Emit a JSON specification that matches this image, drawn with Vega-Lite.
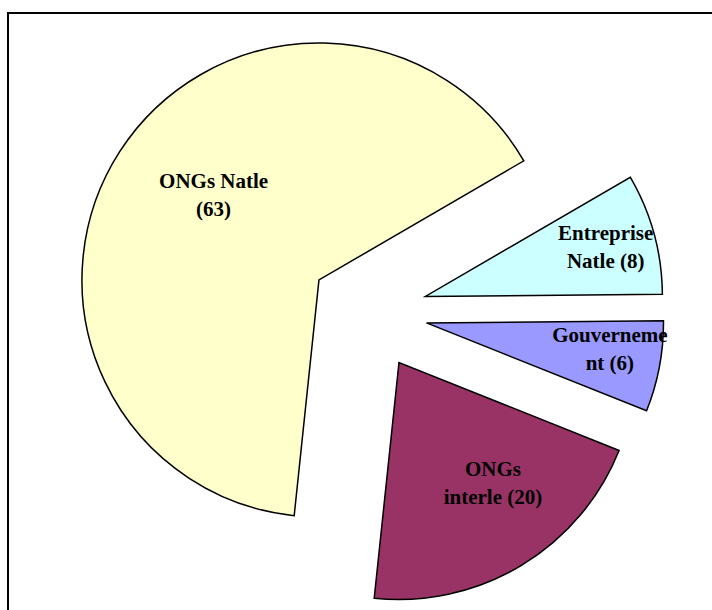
{
  "$schema": "https://vega.github.io/schema/vega-lite/v6.json",
  "width": 712,
  "height": 610,
  "autosize": "none",
  "padding": {"left": 8, "top": 13, "right": 0, "bottom": 0},
  "background": "white",
  "config": {"view": {"stroke": "black", "strokeWidth": 2}},
  "params": [
    {"name": "rayon", "value": 237},
    {"name": "ecart", "value": 59},
    {"name": "debut", "value": 1.044}
  ],
  "data": {
    "values": [
      {"nom": "Entreprise Natle", "libelle": "Entreprise\nNatle (8)", "value": 8},
      {"nom": "Gouvernement", "libelle": "Gouverneme\nnt (6)", "value": 6},
      {"nom": "ONGs interle", "libelle": "ONGs\ninterle (20)", "value": 20},
      {"nom": "ONGs Natle", "libelle": "ONGs Natle\n(63)", "value": 63}
    ]
  },
  "transform": [
    {"window": [{"op": "sum", "field": "value", "as": "cumul"}], "frame": [null, 0]},
    {"joinaggregate": [{"op": "sum", "field": "value", "as": "total"}]},
    {"calculate": "debut + 2 * PI * (datum.cumul - datum.value) / datum.total", "as": "a0"},
    {"calculate": "debut + 2 * PI * datum.cumul / datum.total", "as": "a1"},
    {"calculate": "(datum.a0 + datum.a1) / 2", "as": "milieu"},
    {"calculate": "sin(datum.milieu)", "as": "dx"},
    {"calculate": "-cos(datum.milieu)", "as": "dy"},
    {"calculate": "1 + (datum.value / datum.total < 0.1 ? 0.71 : 0.62) * rayon / ecart", "as": "k"},
    {"calculate": "datum.dx * datum.k", "as": "lx"},
    {"calculate": "datum.dy * datum.k", "as": "ly"}
  ],
  "layer": [
    {
      "mark": {"type": "arc", "outerRadius": 237, "stroke": "black", "strokeWidth": 1.5},
      "encoding": {
        "theta": {"field": "a0", "type": "quantitative", "scale": null, "stack": null},
        "theta2": {"field": "a1"},
        "x": {"field": "dx", "type": "quantitative", "axis": null, "scale": {"domain": [-1, 1], "range": [301.5, 419.5]}},
        "y": {"field": "dy", "type": "quantitative", "axis": null, "scale": {"domain": [-1, 1], "range": [240, 358]}},
        "color": {
          "field": "nom",
          "type": "nominal",
          "legend": null,
          "scale": {
            "domain": ["Entreprise Natle", "Gouvernement", "ONGs interle", "ONGs Natle"],
            "range": ["#CCFFFF", "#9999FF", "#993366", "#FFFFCC"]
          }
        }
      }
    },
    {
      "mark": {
        "type": "text",
        "lineBreak": "\n",
        "font": "Liberation Serif",
        "fontWeight": "bold",
        "fontSize": 21,
        "lineHeight": 28,
        "align": "center",
        "baseline": "middle",
        "dx": 18,
        "dy": -18,
        "color": "black"
      },
      "encoding": {
        "text": {"field": "libelle"},
        "x": {"field": "lx", "type": "quantitative", "axis": null, "scale": {"domain": [-1, 1], "range": [301.5, 419.5]}},
        "y": {"field": "ly", "type": "quantitative", "axis": null, "scale": {"domain": [-1, 1], "range": [240, 358]}}
      }
    }
  ]
}
